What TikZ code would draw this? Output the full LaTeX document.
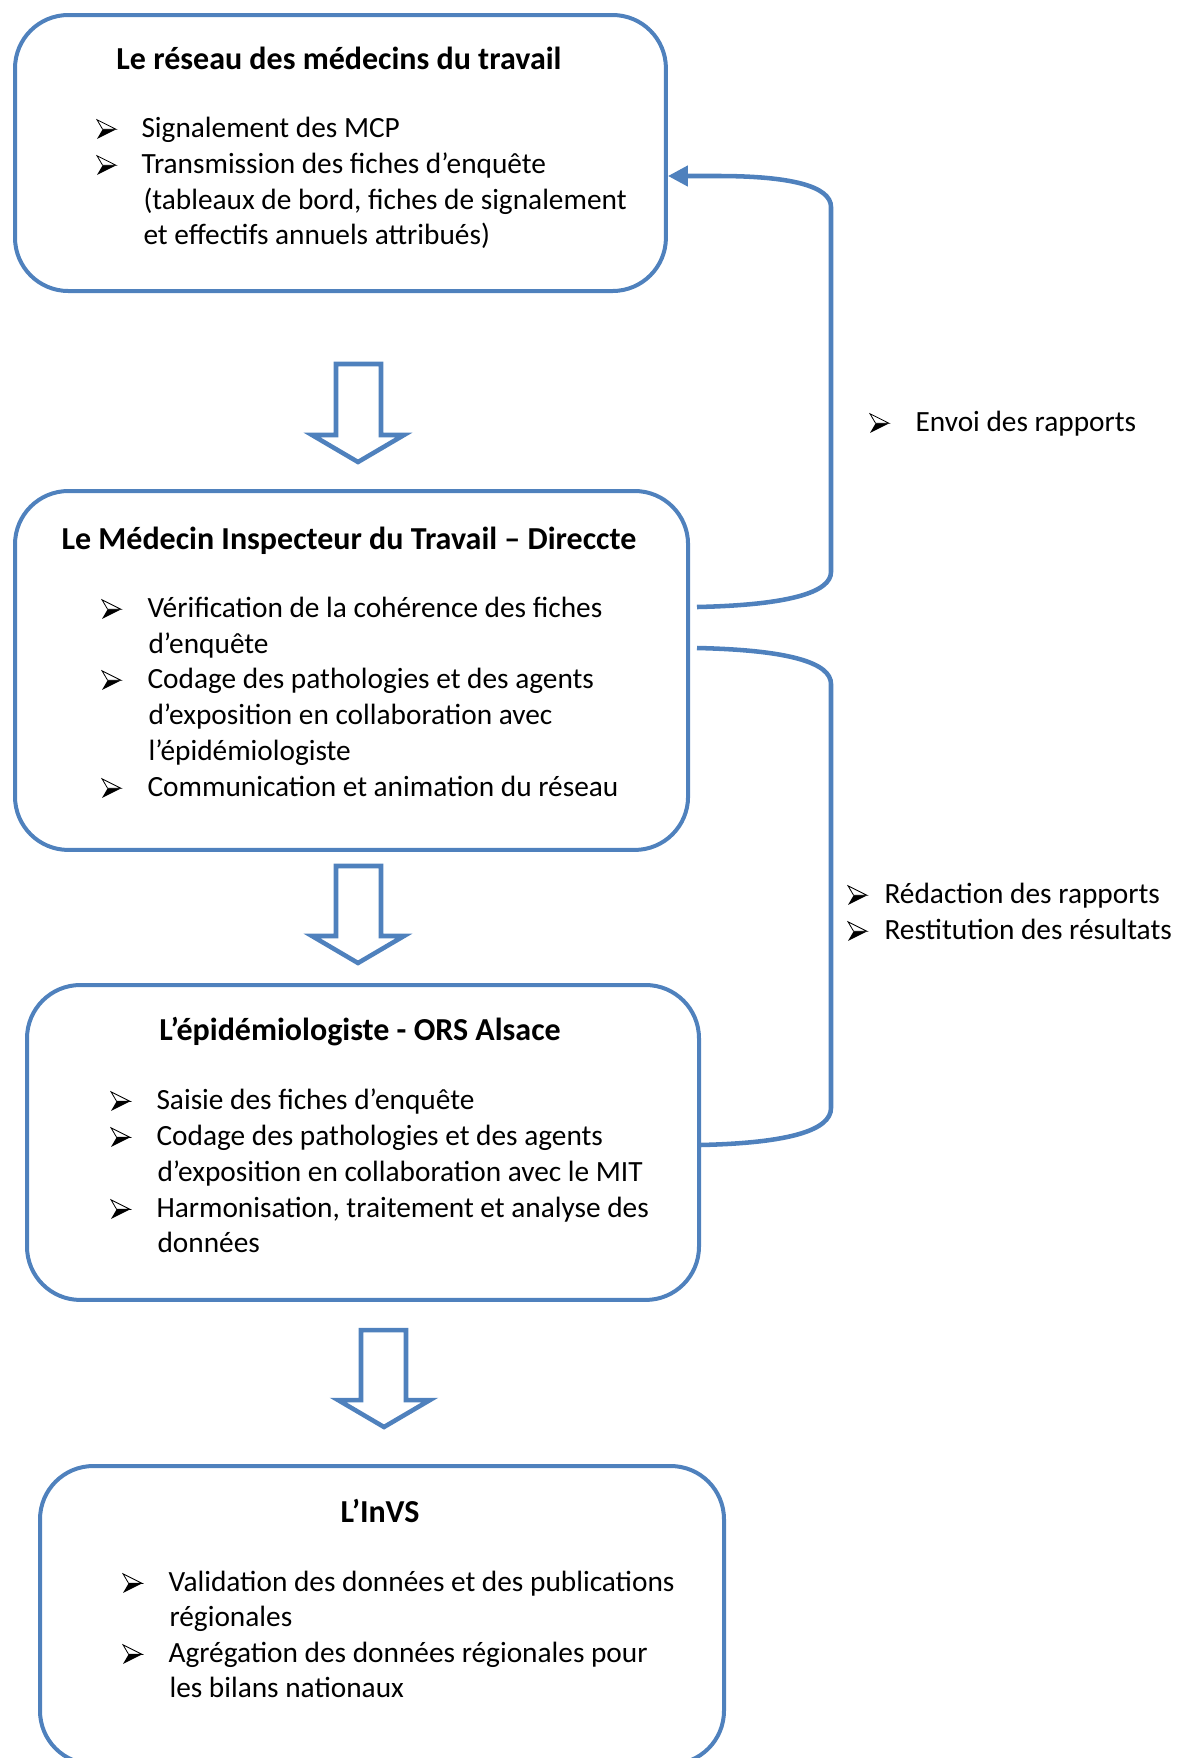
\documentclass[tikz,border=0pt]{standalone}
\usepackage{fontspec}
\setmainfont{Carlito}
\usetikzlibrary{arrows.meta}
\definecolor{wblue}{RGB}{79,129,189}
\begin{document}
\begin{tikzpicture}[x=0.375pt,y=-0.375pt,
  box/.style={draw=wblue, line width=1.5pt, rounded corners=20pt, anchor=north west, inner sep=0pt},
  ttl/.style={anchor=mid, inner sep=0pt, yshift=-2pt, font=\fontsize{12}{14.5}\selectfont\bfseries},
  txt/.style={anchor=mid west, inner sep=0pt, yshift=-1.3pt, font=\fontsize{11}{13.5}\selectfont},
  conn/.style={draw=wblue, line width=1.7pt},
  blk/.style={draw=wblue, line width=1.7pt, fill=white, line join=miter},
  bul/.pic={
    \begin{scope}[yshift=-0.5pt, scale=1.12]
    \draw[line width=0.3pt, fill=white, line join=miter] (-8,-8.5) -- (9,0) -- (-3,0) -- cycle;
    \fill[black] (-3,0) -- (9,0) -- (-8,8.5) -- cycle;
    \end{scope}
  }]
\useasboundingbox (0,0) rectangle (1184,1758);
\clip (0,0) rectangle (1184,1758);

% ---- boxes
\node[box, minimum width=244.1pt, minimum height=103.5pt] (b1) at (13,13) {};
\node[box, minimum width=252.4pt, minimum height=134.6pt] (b2) at (13,489) {};
\node[box, minimum width=252.0pt, minimum height=118.1pt] (b3) at (25,983) {};
\node[box, minimum width=256.5pt, minimum height=111.8pt] (b4) at (38,1464) {};

% ---- box 1
\node[ttl] (t1) at (339,58) {Le réseau des médecins du travail};
\pic at (106,128) {bul};
\pic at (106,164) {bul};
\node[txt] (l11) at (141,128) {Signalement des MCP};
\node[txt] (l12) at (141,164) {Transmission des fiches d’enquête};
\node[txt] (l13) at (143,200) {(tableaux de bord, fiches de signalement};
\node[txt] (l14) at (143,235) {et effectifs annuels attribués)};

% ---- box 2
\node[ttl] (t2) at (349,538) {Le Médecin Inspecteur du Travail – Direccte};
\pic at (111,608) {bul};
\pic at (111,679) {bul};
\pic at (111,787) {bul};
\node[txt] (l21) at (147,608) {Vérification de la cohérence des fiches};
\node[txt] (l22) at (148,644) {d’enquête};
\node[txt] (l23) at (147,679) {Codage des pathologies et des agents};
\node[txt] (l24) at (148,715) {d’exposition en collaboration avec};
\node[txt] (l25) at (148,751) {l’épidémiologiste};
\node[txt] (l26) at (147,787) {Communication et animation du réseau};

% ---- box 3
\node[ttl] (t3) at (360,1029) {L’épidémiologiste - ORS Alsace};
\pic at (120,1100) {bul};
\pic at (120,1136) {bul};
\pic at (120,1208) {bul};
\node[txt] (l31) at (156,1100) {Saisie des fiches d’enquête};
\node[txt] (l32) at (156,1136) {Codage des pathologies et des agents};
\node[txt] (l33) at (157,1172) {d’exposition en collaboration avec le MIT};
\node[txt] (l34) at (156,1208) {Harmonisation, traitement et analyse des};
\node[txt] (l35) at (157,1243) {données};

% ---- box 4
\node[ttl] (t4) at (380,1511) {L’InVS};
\pic at (132,1582) {bul};
\pic at (132,1653) {bul};
\node[txt] (l41) at (168,1582) {Validation des données et des publications};
\node[txt] (l42) at (169,1617) {régionales};
\node[txt] (l43) at (168,1653) {Agrégation des données régionales pour};
\node[txt] (l44) at (169,1688) {les bilans nationaux};

% ---- block arrows
\draw[blk] (336,364) -- (381,364) -- (381,435) -- (404,435) -- (358,462) -- (312,435) -- (336,435) -- cycle;
\draw[blk] (336,866) -- (381,866) -- (381,936) -- (404,936) -- (358,963) -- (312,936) -- (336,936) -- cycle;
\draw[blk] (361,1330) -- (406,1330) -- (406,1400) -- (430,1400) -- (384,1427) -- (338,1400) -- (361,1400) -- cycle;

% ---- feedback connectors
\coordinate (c1s) at (697,607);
\coordinate (c2s) at (697,648);
\coordinate (c2e) at (700,1145);
\draw[conn, -{Triangle[length=7.5pt,width=7.5pt]}] (c1s) .. controls (790,605) and (831,592) .. (831,572) -- (831,207)
  .. controls (831,186) and (790,176) .. (718,176) -- (b1.east |- 0,176);
\draw[conn] (c2s) .. controls (790,650) and (831,663) .. (831,684) -- (831,1108)
  .. controls (831,1130) and (790,1143) .. (c2e);

% ---- side labels
\pic at (879,422) {bul};
\node[txt] (s1) at (915,422) {Envoi des rapports};
\pic at (857,894) {bul};
\pic at (857,930) {bul};
\node[txt] (s2) at (884,894) {Rédaction des rapports};
\node[txt] (s3) at (884,930) {Restitution des résultats};
\end{tikzpicture}
\end{document}
